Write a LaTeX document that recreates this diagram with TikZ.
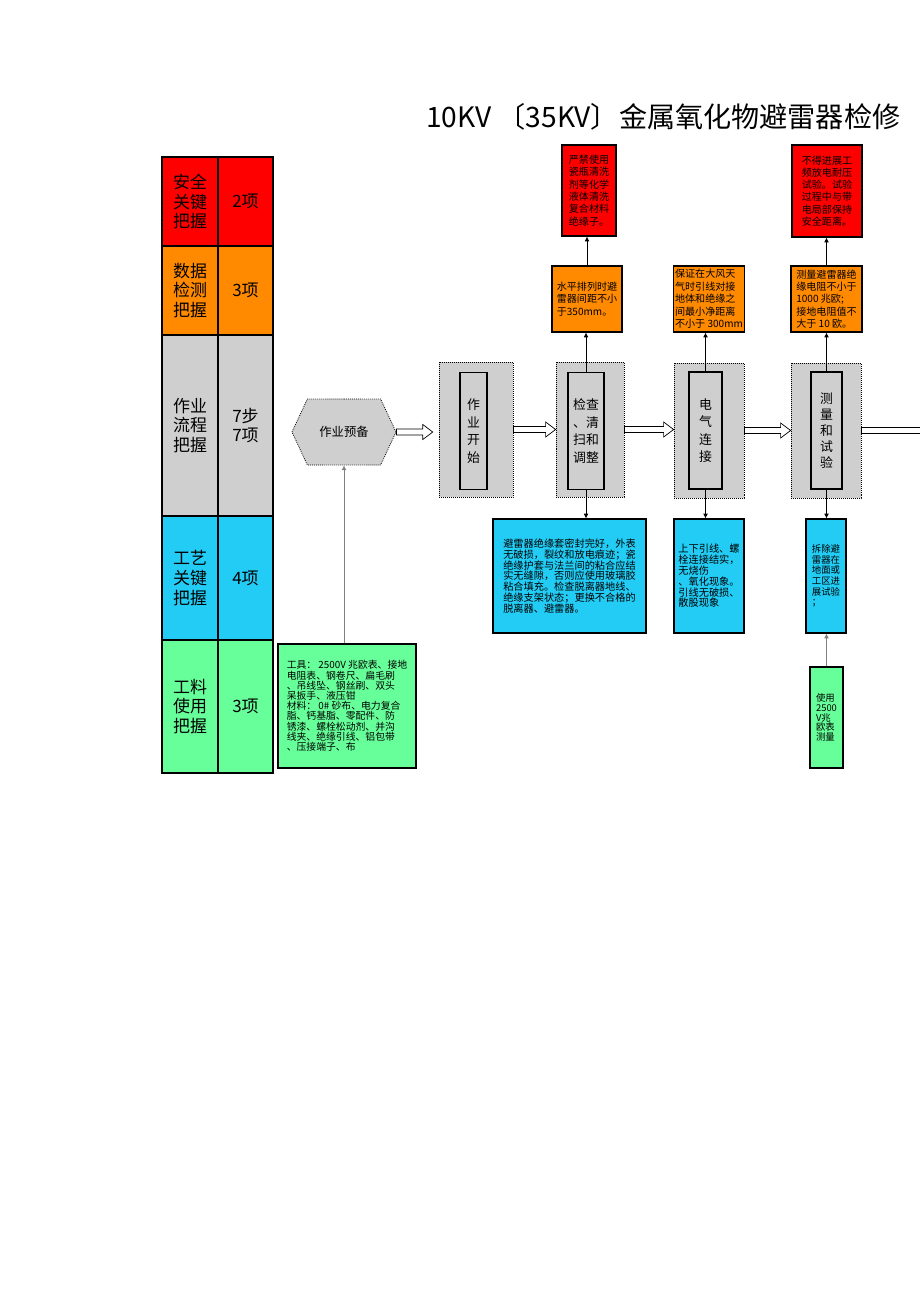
\documentclass[tikz,border=0pt]{standalone}
\usepackage{fontspec}
\setmainfont{Noto Sans CJK SC}
\usetikzlibrary{shapes.symbols,calc,arrows.meta}

\definecolor{safered}{HTML}{FF0000}
\definecolor{dataorange}{HTML}{FF8A00}
\definecolor{flowgray}{HTML}{CFCFCF}
\definecolor{techcyan}{HTML}{22CCF5}
\definecolor{matgreen}{HTML}{66FF99}

\tikzset{
  keycell/.style={draw, line width=1pt, align=center, inner sep=0pt,
    minimum width=1.68cm, font=\fontsize{14.5}{17}\selectfont},
  valcell/.style={keycell, minimum width=1.65cm},
  note/.style={draw, line width=1pt, align=left, inner sep=1pt},
  stage/.style={draw, densely dotted, line width=0.7pt, fill=flowgray, inner sep=0pt, minimum height=4.05cm},
  stepbox/.style={draw, line width=1.2pt, align=center, inner sep=0pt,
    minimum height=3.5cm, font=\fontsize{11}{15}\selectfont},
  link/.style={-{Latex[length=4pt,width=4pt]}, line width=0.5pt},
  feed/.style={link, draw=gray},
  fat arrow/.style={draw, fill=white, line width=0.6pt,
    to path={let \p1=(\tikztostart), \p2=(\tikztotarget) in
      (\x1,\y1+2.6pt) -- (\x2-8.5pt,\y1+2.6pt) -- (\x2-8.5pt,\y1+6.4pt) -- (\x2,\y1)
      -- (\x2-8.5pt,\y1-6.4pt) -- (\x2-8.5pt,\y1-2.6pt) -- (\x1,\y1-2.6pt) -- cycle}}
}

\begin{document}
\begin{tikzpicture}[x=0.03cm, y=-0.03cm]
    \useasboundingbox (0,0) rectangle (920,1302);

    % Title
    \node[anchor=west, inner sep=0pt, font=\fontsize{24}{24}\selectfont] (title) at (426,117)
        {10KV 〔35KV〕金属氧化物避雷器检修};

    % Key table
    \node[keycell, fill=safered, minimum height=2.67cm] (k1) at (190,201.5) {安全\\关键\\把握};
    \node[valcell, fill=safered, minimum height=2.67cm] (v1) at (245.5,201.5) {2项};
    \node[keycell, fill=dataorange, minimum height=2.67cm] (k2) at (190,290.5) {数据\\检测\\把握};
    \node[valcell, fill=dataorange, minimum height=2.67cm] (v2) at (245.5,290.5) {3项};
    \node[keycell, fill=flowgray, minimum height=5.43cm] (k3) at (190,425.5) {作业\\流程\\把握};
    \node[valcell, fill=flowgray, minimum height=5.43cm] (v3) at (245.5,425.5) {7步\\7项};
    \node[keycell, fill=techcyan, minimum height=3.72cm] (k4) at (190,578) {工艺\\关键\\把握};
    \node[valcell, fill=techcyan, minimum height=3.72cm] (v4) at (245.5,578) {4项};
    \node[keycell, fill=matgreen, minimum height=3.99cm] (k5) at (190,706.5) {工料\\使用\\把握};
    \node[valcell, fill=matgreen, minimum height=3.99cm] (v5) at (245.5,706.5) {3项};

    % Work flow
    \node[signal, signal to=west and east, signal pointer angle=130, draw, densely dotted,
        line width=0.7pt, fill=flowgray, minimum width=3.12cm, minimum height=1.98cm, inner sep=0pt,
        font=\fontsize{10.5}{12}\selectfont] (prep) at (344,432) {作业预备};

    \node[stage, minimum width=2.22cm] (s1) at (476,429.5) {};
    \node[stepbox, minimum width=0.81cm] (s1in) at (473.5,431) {作\\业\\开\\始};
    \node[stage, minimum width=2.04cm] (s2) at (590,429.5) {};
    \node[stepbox, minimum width=1.08cm] (s2in) at (586,431) {检查\\、清\\扫和\\调整};
    \node[stage, minimum width=2.10cm] (s3) at (709,430.5) {};
    \node[stepbox, minimum width=0.99cm] (s3in) at (705.5,430.5) {电\\气\\连\\接};
    \node[stage, minimum width=2.10cm] (s4) at (826,430.5) {};
    \node[stepbox, minimum width=0.93cm, font=\fontsize{11}{13.5}\selectfont] (s4in) at (826.5,430.5)
        {测\\量\\和\\试\\验};
    \coordinate (exit) at (940,432);

    \draw[fat arrow] (prep.east) to ([xshift=-5pt]s1.west);
    \draw[fat arrow] (s1.east) to (s2.west);
    \draw[fat arrow] (s2.east) to (s3.west);
    \draw[fat arrow] (s3.east) to (s4.west);
    \draw[fat arrow] (s4.east) to (exit);

    % Safety notes
    \node[note, fill=safered, minimum width=1.62cm, minimum height=2.73cm,
        font=\fontsize{8.6}{10.5}\selectfont] (r1) at (589,190.5)
        {严禁使用\\瓷瓶清洗\\剂等化学\\液体清洗\\复合材料\\绝缘子。};
    \node[note, fill=safered, minimum width=2.1cm, minimum height=2.76cm,
        font=\fontsize{8.6}{10.5}\selectfont] (r2) at (827,191)
        {不得进展工\\频放电耐压\\试验。试验\\过程中与带\\电局部保持\\安全距离。};

    % Data notes
    \node[note, fill=dataorange, minimum width=2.1cm, minimum height=1.98cm,
        font=\fontsize{8.6}{10.6}\selectfont] (o1) at (587,299)
        {水平排列时避\\雷器间距不小\\于350mm。};
    \node[note, fill=dataorange, minimum width=2.1cm, minimum height=1.98cm,
        font=\fontsize{8.6}{10.6}\selectfont] (o2) at (709,299)
        {保证在大风天\\气时引线对接\\地体和绝缘之\\间最小净距离\\不小于 300mm};
    \node[note, fill=dataorange, minimum width=2.13cm, minimum height=1.98cm,
        font=\fontsize{8.6}{10.6}\selectfont] (o3) at (826.5,299)
        {测量避雷器绝\\缘电阻不小于\\1000 兆欧;\\接地电阻值不\\大于 10 欧。};

    % Process notes
    \node[note, fill=techcyan, minimum width=4.59cm, minimum height=3.42cm,
        font=\fontsize{8.7}{9.2}\selectfont] (c1) at (569.5,576)
        {避雷器绝缘套密封完好，外表\\无破损，裂纹和放电痕迹；瓷\\绝缘护套与法兰间的粘合应结\\实无缝隙，否则应使用玻璃胶\\粘合填充。检查脱离器地线、\\绝缘支架状态；更换不合格的\\脱离器、避雷器。};
    \node[note, fill=techcyan, minimum width=2.1cm, minimum height=3.42cm,
        font=\fontsize{8.7}{9.2}\selectfont] (c2) at (709,576)
        {上下引线、螺\\栓连接结实，\\无烧伤\\、氧化现象。\\引线无破损、\\散股现象};
    \node[note, fill=techcyan, minimum width=1.2cm, minimum height=3.42cm,
        font=\fontsize{8}{9}\selectfont] (c3) at (826,576)
        {拆除避\\雷器在\\地面或\\工区进\\展试验\\；};

    % Material notes
    \node[note, fill=matgreen, minimum width=4.14cm, minimum height=3.72cm,
        font=\fontsize{8.4}{8.7}\selectfont] (g1) at (347,706)
        {工具： 2500V 兆欧表、接地\\电阻表、钢卷尺、扁毛刷\\、吊线坠、钢丝刷、双头\\呆扳手、液压钳\\材料： 0\# 砂布、电力复合\\脂、钙基脂、零配件、防\\锈漆、螺栓松动剂、并沟\\线夹、绝缘引线、铝包带\\、压接端子、布};
    \node[note, fill=matgreen, minimum width=0.99cm, minimum height=3.03cm,
        font=\fontsize{8}{8.4}\selectfont] (g2) at (826.5,717.5)
        {使用\\2500\\V兆\\欧表\\测量};

    % Links up
    \draw[link] (s2in.north) -- (s2in.north |- o1.south);
    \draw[link] (o1.north) -- (o1.north |- r1.south);
    \draw[link] (s3in.north) -- (s3in.north |- o2.south);
    \draw[link] (s4in.north) -- (s4in.north |- o3.south);
    \draw[link] (o3.north) -- (o3.north |- r2.south);

    % Links down
    \draw[link] (s2in.south) -- (s2in.south |- c1.north);
    \draw[link] (s3in.south) -- (s3in.south |- c2.north);
    \draw[link] (s4in.south) -- (s4in.south |- c3.north);

    % Feeds
    \draw[feed] (g2.north) -- (g2.north |- c3.south);
    \draw[feed] (prep.south |- g1.north) -- (prep.south);
\end{tikzpicture}
\end{document}
